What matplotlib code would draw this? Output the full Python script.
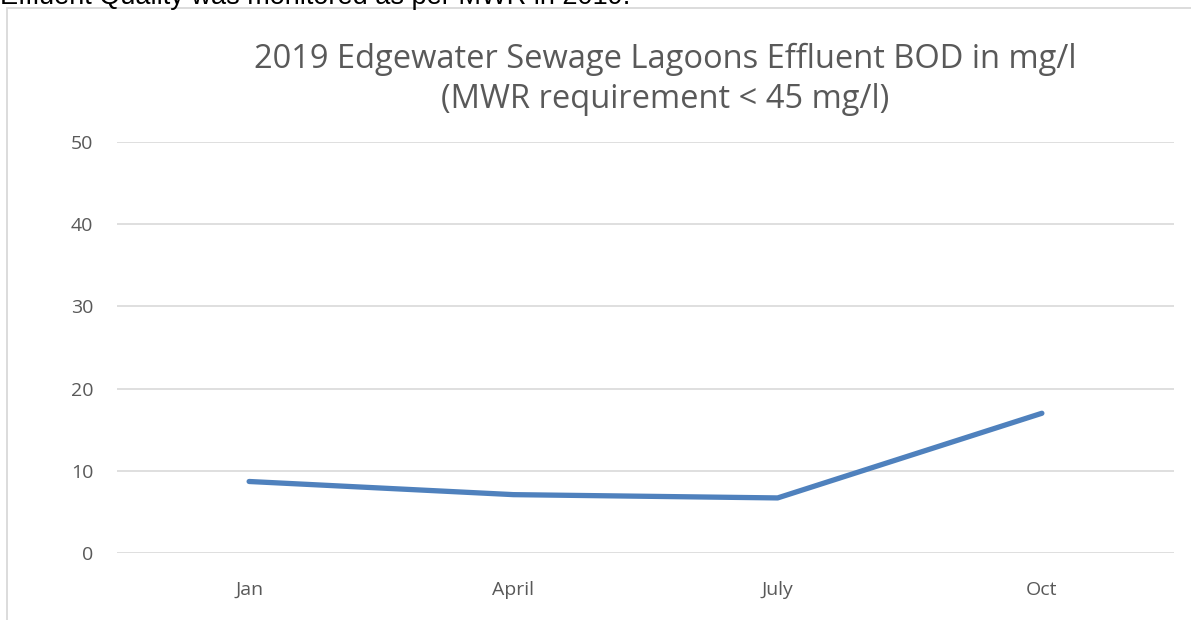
import matplotlib
matplotlib.use("Agg")
import matplotlib.pyplot as plt
from matplotlib.patches import Rectangle

categories = ["Jan", "April", "July", "Oct"]
bod_values = [8.7, 7.1, 6.7, 17.0]
y_ticks = [0, 10, 20, 30, 40, 50]
title_lines = ["2019 Edgewater Sewage Lagoons Effluent BOD in mg/l",
               "(MWR requirement < 45 mg/l)"]
header_text = "Effluent Quality was monitored as per MWR in 2019."

W, H = 1191, 620
fig = plt.figure(figsize=(W / 100, H / 100), dpi=100)
fig.patch.set_facecolor("white")

# page text above the chart (cut off at top)
fig.text(0 / W, 1 - 4 / H, header_text, fontsize=19.5, family="Liberation Sans",
         color="black", ha="left", va="baseline")

# chart border
fig.patches.append(Rectangle((6.5 / W, -0.1), 1.2, 1 - 8.5 / H + 0.1,
                             transform=fig.transFigure, fill=False,
                             edgecolor="#D9D9D9", linewidth=1.3))

left, right, bottom, top = 117, 1174, 553, 142
ax = fig.add_axes([left / W, 1 - bottom / H, (right - left) / W, (bottom - top) / H])
x = list(range(len(categories)))
ax.plot(x, bod_values, color="#4F81BD", linewidth=3.8, solid_capstyle="round",
        solid_joinstyle="round", zorder=3)
ax.set_xlim(-0.5, len(categories) - 0.5)
ax.set_ylim(0, 50)
ax.set_yticks(y_ticks)
ax.set_xticks(x)
ax.set_xticklabels(categories)
for s in ax.spines.values():
    s.set_visible(False)
ax.grid(axis="y", color="#D9D9D9", linewidth=1.2)
ax.set_axisbelow(True)
ax.tick_params(length=0, labelsize=14, labelcolor="#595959")
ax.tick_params(axis="y", pad=17)
ax.tick_params(axis="x", pad=20)
for lab in ax.get_xticklabels() + ax.get_yticklabels():
    lab.set_family("Open Sans")

for line, base in zip(title_lines, [68, 108]):
    fig.text(665 / W, 1 - base / H, line, fontsize=23.5, family="Open Sans",
             color="#595959", ha="center", va="baseline")

fig.savefig("out.png", dpi=100, facecolor="white")
